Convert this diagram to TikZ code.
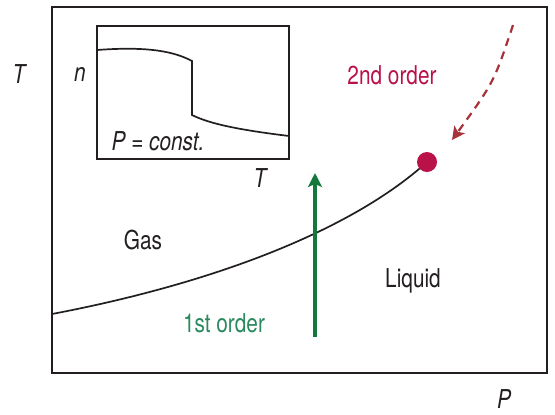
\documentclass[tikz,border=0pt]{standalone}
\usepackage{fontspec}
\setmainfont{TeX Gyre Heros}[FakeStretch=0.8]
\usepackage{xcolor}
\usetikzlibrary{arrows.meta}
\definecolor{ink}{HTML}{231F20}
\definecolor{crimson}{HTML}{B81248}
\definecolor{dashred}{HTML}{A8323A}
\definecolor{arrowgreen}{HTML}{12783C}
\definecolor{textgreen}{HTML}{2A8A5E}
\tikzset{lbl/.style={font=\fontsize{13}{15}\selectfont,text=ink,inner sep=0pt},
axlbl/.style={lbl,font=\fontsize{13}{15}\selectfont\itshape},
critdot/.style={circle,fill=crimson,minimum size=10pt,inner sep=0pt}}

\begin{document}
\begin{tikzpicture}[x=0.5pt,y=-0.5pt,>=Stealth]
\useasboundingbox(0,0) rectangle (555,414);
\draw[ink,line width=1.3pt](52,7) rectangle (547,373);
\draw[ink,line width=1.2pt](97,26) rectangle (289,159);
% inset: n against T
\draw[ink,line width=0.85pt](97,50) .. controls (150,46) and (175,52) .. (192,61)--(192,115)
 .. controls (210,124) and (240,130) .. (289,136);
\node[axlbl] (tlbl) at (19,74) {T};
\node[axlbl] (nlbl) at (80,74) {n};
\node[axlbl] (pconst) at (158,141) {P = const.};
\node[axlbl] (tinset) at (260,178) {T};
\node[axlbl] (plbl) at (504,399) {P};
% phase boundary
\coordinate (crit) at (427,162);
\draw[ink,line width=0.85pt](52,314) .. controls (215,283) and (352,230) .. (crit);
\node[critdot] (critpt) at (crit) {};
\node[lbl] (gas) at (143,240) {Gas};
\node[lbl] (liquid) at (413,281) {Liquid};
\node[lbl,text=textgreen] (first) at (224,323) {1st order};
\node[lbl,text=crimson] (second) at (392,75) {2nd order};
% paths
\coordinate (g0) at (315,337);
\coordinate (g1) at (315,173);
\draw[arrowgreen,line width=1.6pt,-{Stealth[length=7pt,width=7pt,inset=1.5pt]}](g0)--(g1);
\coordinate (d0) at (513,25);
\coordinate (d1) at (452,140);
\draw[dashred,line width=1.1pt,dash pattern=on 4pt off 3pt,-{Stealth[length=6.5pt,width=6.5pt,inset=1.5pt]}](d0) .. controls (494,82) .. (d1);
\end{tikzpicture}
\end{document}
